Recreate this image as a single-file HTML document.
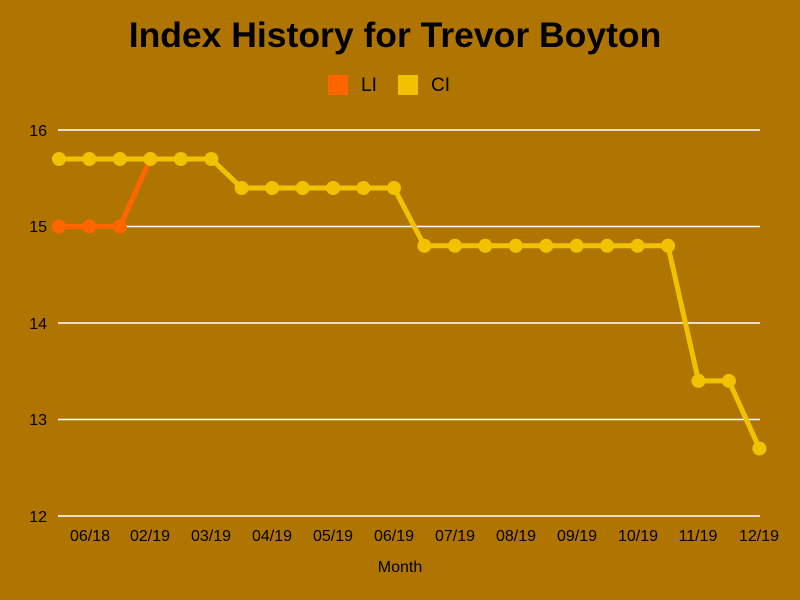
<!DOCTYPE html>
<html><head><meta charset="utf-8"><style>body{margin:0;background:#B07500}svg{display:block}</style></head><body>
<svg width="800" height="600" xmlns="http://www.w3.org/2000/svg" font-family="Liberation Sans, sans-serif">
<rect width="800" height="600" fill="#B07500"/>
<text x="395" y="47" text-anchor="middle" font-size="35.5" font-weight="bold" fill="#000">Index History for Trevor Boyton</text>
<rect x="328" y="75" width="20" height="20" fill="#FF6600"/>
<text x="361" y="91" font-size="19" fill="#000">LI</text>
<rect x="398" y="75" width="20" height="20" fill="#F2C200"/>
<text x="431" y="91" font-size="19" fill="#000">CI</text>
<g stroke="#fff" stroke-width="1.5">
<line x1="58" y1="130" x2="760" y2="130"/><line x1="58" y1="226.5" x2="760" y2="226.5"/>
<line x1="58" y1="323" x2="760" y2="323"/><line x1="58" y1="419.5" x2="760" y2="419.5"/>
<line x1="58" y1="516" x2="760" y2="516"/></g>
<g font-size="16" fill="#000" text-anchor="end">
<text x="47" y="136">16</text><text x="47" y="232">15</text><text x="47" y="329">14</text><text x="47" y="425">13</text><text x="47" y="522">12</text></g>
<g font-size="16" fill="#000" text-anchor="middle">
<text x="90" y="541">06/18</text><text x="150" y="541">02/19</text><text x="211" y="541">03/19</text><text x="272" y="541">04/19</text><text x="333" y="541">05/19</text><text x="394" y="541">06/19</text><text x="455" y="541">07/19</text><text x="516" y="541">08/19</text><text x="577" y="541">09/19</text><text x="638" y="541">10/19</text><text x="698" y="541">11/19</text><text x="759" y="541">12/19</text>
<text x="400" y="572">Month</text></g>
<polyline fill="none" stroke="#FF6600" stroke-width="5" points="59,226.5 89.4,226.5 119.9,226.5 150.4,159"/>
<g fill="#FF6600"><circle cx="59" cy="226.5" r="7"/><circle cx="89.4" cy="226.5" r="7"/><circle cx="119.9" cy="226.5" r="7"/></g>
<polyline fill="none" stroke="#F2C200" stroke-width="5" points="59,159 89.4,159 119.9,159 150.4,159 180.8,159 211.3,159 241.7,188 272.2,188 302.6,188 333.1,188 363.5,188 394,188 424.4,245.8 454.9,245.8 485.3,245.8 515.8,245.8 546.2,245.8 576.7,245.8 607.1,245.8 637.6,245.8 668,245.8 698.5,380.9 728.9,380.9 759.4,448.5"/>
<g fill="#F2C200">
<circle cx="59" cy="159" r="7"/><circle cx="89.4" cy="159" r="7"/><circle cx="119.9" cy="159" r="7"/><circle cx="150.4" cy="159" r="7"/><circle cx="180.8" cy="159" r="7"/><circle cx="211.3" cy="159" r="7"/>
<circle cx="241.7" cy="188" r="7"/><circle cx="272.2" cy="188" r="7"/><circle cx="302.6" cy="188" r="7"/><circle cx="333.1" cy="188" r="7"/><circle cx="363.5" cy="188" r="7"/><circle cx="394" cy="188" r="7"/>
<circle cx="424.4" cy="245.8" r="7"/><circle cx="454.9" cy="245.8" r="7"/><circle cx="485.3" cy="245.8" r="7"/><circle cx="515.8" cy="245.8" r="7"/><circle cx="546.2" cy="245.8" r="7"/><circle cx="576.7" cy="245.8" r="7"/><circle cx="607.1" cy="245.8" r="7"/><circle cx="637.6" cy="245.8" r="7"/><circle cx="668" cy="245.8" r="7"/>
<circle cx="698.5" cy="380.9" r="7"/><circle cx="728.9" cy="380.9" r="7"/><circle cx="759.4" cy="448.5" r="7"/></g>
</svg>
</body></html>
